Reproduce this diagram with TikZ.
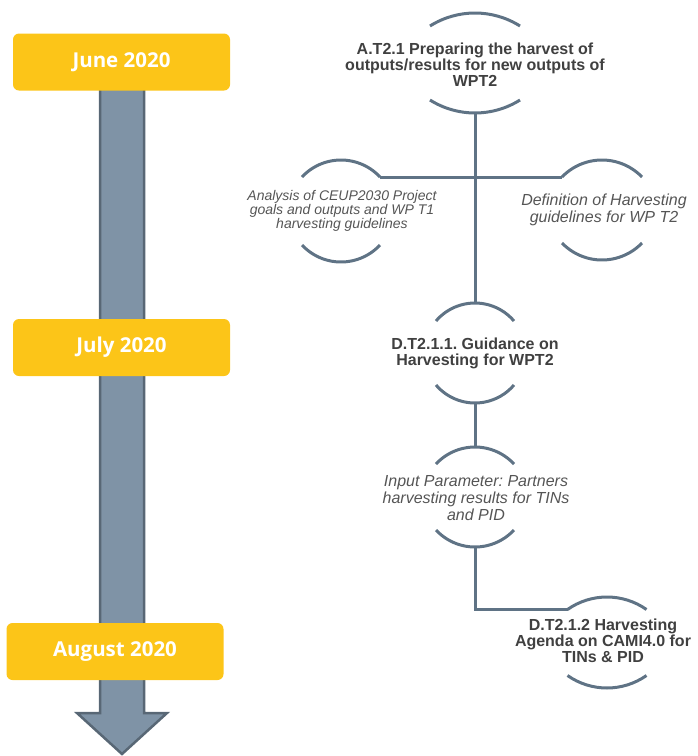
\documentclass[tikz,border=0pt]{standalone}
\usepackage{fontspec}
\setmainfont{Liberation Sans}
\newfontfamily\datefont{Open Sans}
\frenchspacing
\definecolor{datey}{RGB}{252,197,24}
\definecolor{shaftfill}{RGB}{127,147,166}
\definecolor{shaftedge}{RGB}{88,103,117}
\definecolor{arcc}{RGB}{95,115,133}
\definecolor{txtd}{RGB}{64,64,64}
\definecolor{txti}{RGB}{85,85,85}
\newcommand\brk[6]{%
  \pgfmathsetmacro\bR{(#5*#5+#6*#6)/(2*#6)}%
  \pgfmathsetmacro\bA{asin(#5/\bR)}%
  \draw[arcline] (#2-#5,-#3-#6) coordinate (#1-tl) arc[start angle=90+\bA, end angle=90-\bA, radius=\bR] coordinate (#1-tr);
  \coordinate (#1-top) at (#2,-#3);
  \draw[arcline] (#2-#5,-#4+#6) coordinate (#1-bl) arc[start angle=270-\bA, end angle=270+\bA, radius=\bR] coordinate (#1-br);
  \coordinate (#1-bot) at (#2,-#4);
}
\begin{document}
\begin{tikzpicture}[x=1pt,y=1pt,
  arcline/.style={draw=arcc,line width=3pt},
  conn/.style={draw=arcc,line width=3pt},
  datebox/.style={fill=datey,rounded corners=6pt,minimum width=217pt,minimum height=57pt,inner sep=0pt,
     text=white,font=\datefont\bfseries\fontsize{20.5}{24}\selectfont},
  boldtxt/.style={align=center,text=txtd,font=\bfseries\fontsize{16}{16}\selectfont,inner sep=0pt},
  itxt/.style={align=center,text=txti,font=\itshape\fontsize{14}{14}\selectfont,inner sep=0pt},
  itxtb/.style={align=center,text=txti,font=\itshape\fontsize{16}{17}\selectfont,inner sep=0pt}]
\useasboundingbox (0,0) rectangle (698,-756);
% timeline arrow
\draw[fill=shaftfill,draw=shaftedge,line width=2.5pt,line join=miter]
  (100,-85) -- (100,-713) -- (77,-713) -- (122,-754) -- (167,-713) -- (144,-713) -- (144,-85) -- cycle;
\node[datebox] (june) at (121.5,-62) {June 2020};
\node[datebox] (july) at (121.5,-347.5) {July 2020};
\node[datebox] (aug) at (115,-651.5) {August 2020};
% brackets
\brk{A}{475}{13}{113}{45}{13}
\brk{L}{341}{160}{262}{39}{17}
\brk{R}{602}{160}{260}{40}{17}
\brk{D1}{475}{303}{403}{39}{18}
\brk{I}{475}{447}{547}{39}{17}
\brk{D2}{607}{597}{688}{39.5}{12.5}
% texts
\node[boldtxt] (tA) at (475,-65) {A.T2.1 Preparing the harvest of\\outputs/results for new outputs of\\WPT2};
\node[itxt] (tL) at (342,-211) {Analysis of CEUP2030 Project\\goals and outputs and WP T1\\harvesting guidelines};
\node[itxtb] (tR) at (604,-210) {Definition of Harvesting\\guidelines for WP T2};
\node[boldtxt] (tD1) at (475,-353) {D.T2.1.1. Guidance on\\Harvesting for WPT2};
\node[itxtb] (tI) at (476,-498) {Input Parameter: Partners\\harvesting results for TINs\\and PID};
\node[boldtxt] (tD2) at (603,-641) {D.T2.1.2 Harvesting\\Agenda on CAMI4.0 for\\TINs \& PID};
% connectors
\draw[conn] (A-bot) -- (D1-top);
\draw[conn] (L-tr) -- (R-tl);
\draw[conn] (D1-bot) -- (I-top);
\draw[conn] (I-bot) |- (D2-tl);
\end{tikzpicture}
\end{document}
